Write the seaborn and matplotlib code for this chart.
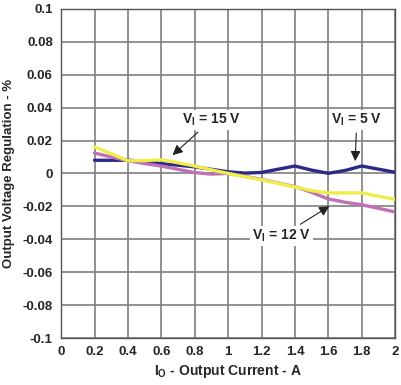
import matplotlib
matplotlib.use("Agg")
import matplotlib.pyplot as plt
import seaborn as sns
import pandas as pd

# output current (A) and regulation (%)
current = [0.2, 0.3, 0.4, 0.5, 0.6, 0.7, 0.8, 0.9, 1.0, 1.1, 1.2, 1.3, 1.4, 1.5, 1.6, 1.7, 1.8, 1.9, 2.0]
reg_5v = [0.008, 0.008, 0.008, 0.0075, 0.006, 0.005, 0.004, 0.0025, 0.001, 0.0002, 0.0006,
          0.0026, 0.0045, 0.002, 0.0001, 0.0018, 0.0045, 0.0026, 0.0007]
reg_12v = [0.0124, 0.010, 0.0077, 0.006, 0.0045, 0.0025, 0.0005, -0.0004, 0.0, -0.0018, -0.0036,
           -0.0058, -0.008, -0.0115, -0.0155, -0.0175, -0.019, -0.0212, -0.0234]
reg_15v = [0.0162, 0.012, 0.0077, 0.0078, 0.0083, 0.0065, 0.0045, 0.0022, 0.0, -0.002, -0.0039,
           -0.006, -0.0082, -0.0105, -0.0118, -0.0118, -0.0118, -0.0138, -0.0158]

xticks = [0, 0.2, 0.4, 0.6, 0.8, 1, 1.2, 1.4, 1.6, 1.8, 2]
xlabels = ["0", "0.2", "0.4", "0.6", "0.8", "1", "1.2", "1.4", "1.6", "1.8", "2"]
yticks = [0.1, 0.08, 0.06, 0.04, 0.02, 0, -0.02, -0.04, -0.06, -0.08, -0.1]
ylabels = ["0.1", "0.08", "0.06", "0.04", "0.02", "0", "-0.02", "-0.04", "-0.06", "-0.08", "-0.1"]

sns.set_style("white")
plt.rcParams['font.family'] = ['Liberation Sans', 'DejaVu Sans']
plt.rcParams['mathtext.fontset'] = 'custom'
plt.rcParams['mathtext.rm'] = 'Liberation Sans:bold'
plt.rcParams['mathtext.default'] = 'rm'

fig = plt.figure(figsize=(4.02, 3.85), dpi=100)
ax = fig.add_axes([0.152, 0.122, 0.831, 0.855])

df = pd.DataFrame({"I": current, "5": reg_5v, "12": reg_12v, "15": reg_15v})
sns.lineplot(data=df, x="I", y="5", color="#2b2a85", linewidth=2.4, ax=ax, zorder=3)
sns.lineplot(data=df, x="I", y="12", color="#c070b5", linewidth=2.4, ax=ax, zorder=4)
sns.lineplot(data=df, x="I", y="15", color="#eeee4a", linewidth=2.4, ax=ax, zorder=5)

ax.set_xlim(0, 2)
ax.set_ylim(-0.1, 0.1)
ax.set_xticks(xticks)
ax.set_xticklabels(xlabels, fontsize=9.5, fontweight="bold")
ax.set_yticks(yticks)
ax.set_yticklabels(ylabels, fontsize=9.5, fontweight="bold")
ax.tick_params(length=0, pad=6)
ax.grid(True, color="#7f7f7f", linewidth=1.2)
for s in ax.spines.values():
    s.set_color("#555555")
    s.set_linewidth(1.0)

ax.set_xlabel(r"I$_\mathregular{O}$ - Output Current - A", fontsize=10, fontweight="bold", labelpad=3)
ax.set_ylabel("Output Voltage Regulation - %", fontsize=9.5, fontweight="bold", labelpad=5)

box = dict(facecolor="white", edgecolor="none", pad=1.5)
arrow = dict(arrowstyle="-|>", color="#222222", lw=0.8, mutation_scale=15)
ax.annotate(r"V$_\mathregular{I}$ = 15 V", xy=(0.655, 0.0100), xytext=(0.9, 0.0325),
            ha="center", va="center", fontsize=10, fontweight="bold", bbox=box,
            arrowprops=arrow, zorder=6)
ax.annotate(r"V$_\mathregular{I}$ = 5 V", xy=(1.76, 0.0058), xytext=(1.77, 0.0325),
            ha="center", va="center", fontsize=10, fontweight="bold", bbox=box,
            arrowprops=arrow, zorder=6)
ax.annotate(r"V$_\mathregular{I}$ = 12 V", xy=(1.62, -0.019), xytext=(1.32, -0.038),
            ha="center", va="center", fontsize=10, fontweight="bold", bbox=box,
            arrowprops=arrow, zorder=6)

fig.savefig("out.png", dpi=100)
